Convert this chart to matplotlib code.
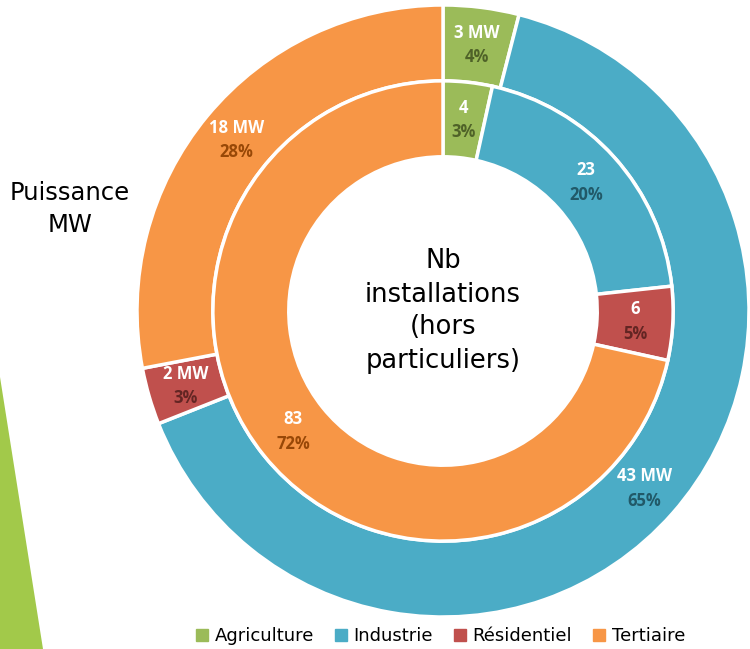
import matplotlib.pyplot as plt
from matplotlib.patches import Polygon
import numpy as np

# ---- data ----
categories = ['Agriculture', 'Industrie', 'Résidentiel', 'Tertiaire']
puissance_mw = [3, 43, 2, 18]
puissance_pct = [4, 65, 3, 28]
nb_installations = [4, 23, 6, 83]
nb_pct = [3, 20, 5, 72]

colors = ['#9BBB59', '#4BACC6', '#C0504D', '#F79646']
dark_colors = ['#4F6228', '#215968', '#632523', '#984807']

plt.rcParams['font.family'] = ['DejaVu Sans']

fig = plt.figure(figsize=(7.5, 6.49), dpi=100)

# green decorative triangle on the left
fig.patches.append(Polygon([(0, 272 / 649), (43 / 750, 0), (0, 0)], closed=True,
                           transform=fig.transFigure, facecolor='#A2C94A',
                           edgecolor='none', zorder=0))

# axes placed so the donut centre sits at (443, 309) px, radius 306 px
ax = fig.add_axes([137 / 750, 32 / 649, 612 / 750, 612 / 649])
ring_w = 0.248
inner_r = 0.752

wedge_kw = dict(edgecolor='white', linewidth=2.5)

ax.pie(puissance_pct, radius=1.0, colors=colors, startangle=90, counterclock=False,
       wedgeprops=dict(width=ring_w, **wedge_kw))
ax.pie(nb_installations, radius=inner_r, colors=colors, startangle=90, counterclock=False,
       wedgeprops=dict(width=ring_w, **wedge_kw))

ax.set_xlim(-1, 1)
ax.set_ylim(-1, 1)
ax.set_aspect('equal')
ax.axis('off')


def add_labels(values, top_texts, pcts, r_mid):
    total = float(sum(values))
    start = 90.0
    for i, v in enumerate(values):
        span = 360.0 * v / total
        mid = np.deg2rad(start - span / 2)
        x, y = r_mid * np.cos(mid), r_mid * np.sin(mid)
        ax.text(x, y + 0.04, top_texts[i], ha='center', va='center', color='white',
                fontsize=12, fontweight='bold', family='Open Sans')
        ax.text(x, y - 0.04, f'{pcts[i]}%', ha='center', va='center', color=dark_colors[i],
                fontsize=12, fontweight='bold', family='Open Sans')
        start -= span


add_labels(puissance_pct, [f'{m} MW' for m in puissance_mw], puissance_pct, 1 - ring_w / 2)
add_labels(nb_installations, [str(n) for n in nb_installations], nb_pct, inner_r - ring_w / 2)

ax.text(0, 0, 'Nb\ninstallations\n(hors\nparticuliers)', ha='center', va='center',
        fontsize=18.5, linespacing=1.35, color='black')

fig.text(70 / 750, 1 - 209 / 649, 'Puissance\nMW', ha='center', va='center',
         fontsize=17.5, linespacing=1.4, color='black')

# legend
handles = [plt.Line2D([], [], marker='s', linestyle='none', markersize=8,
                      markerfacecolor=c, markeredgecolor=c) for c in colors]
fig.legend(handles, categories, loc='center', bbox_to_anchor=(440 / 750, 1 - 636 / 649),
           ncol=4, frameon=False, fontsize=13, handletextpad=0.3, columnspacing=1.1,
           handlelength=0.8)

fig.savefig('out.png', dpi=100)
